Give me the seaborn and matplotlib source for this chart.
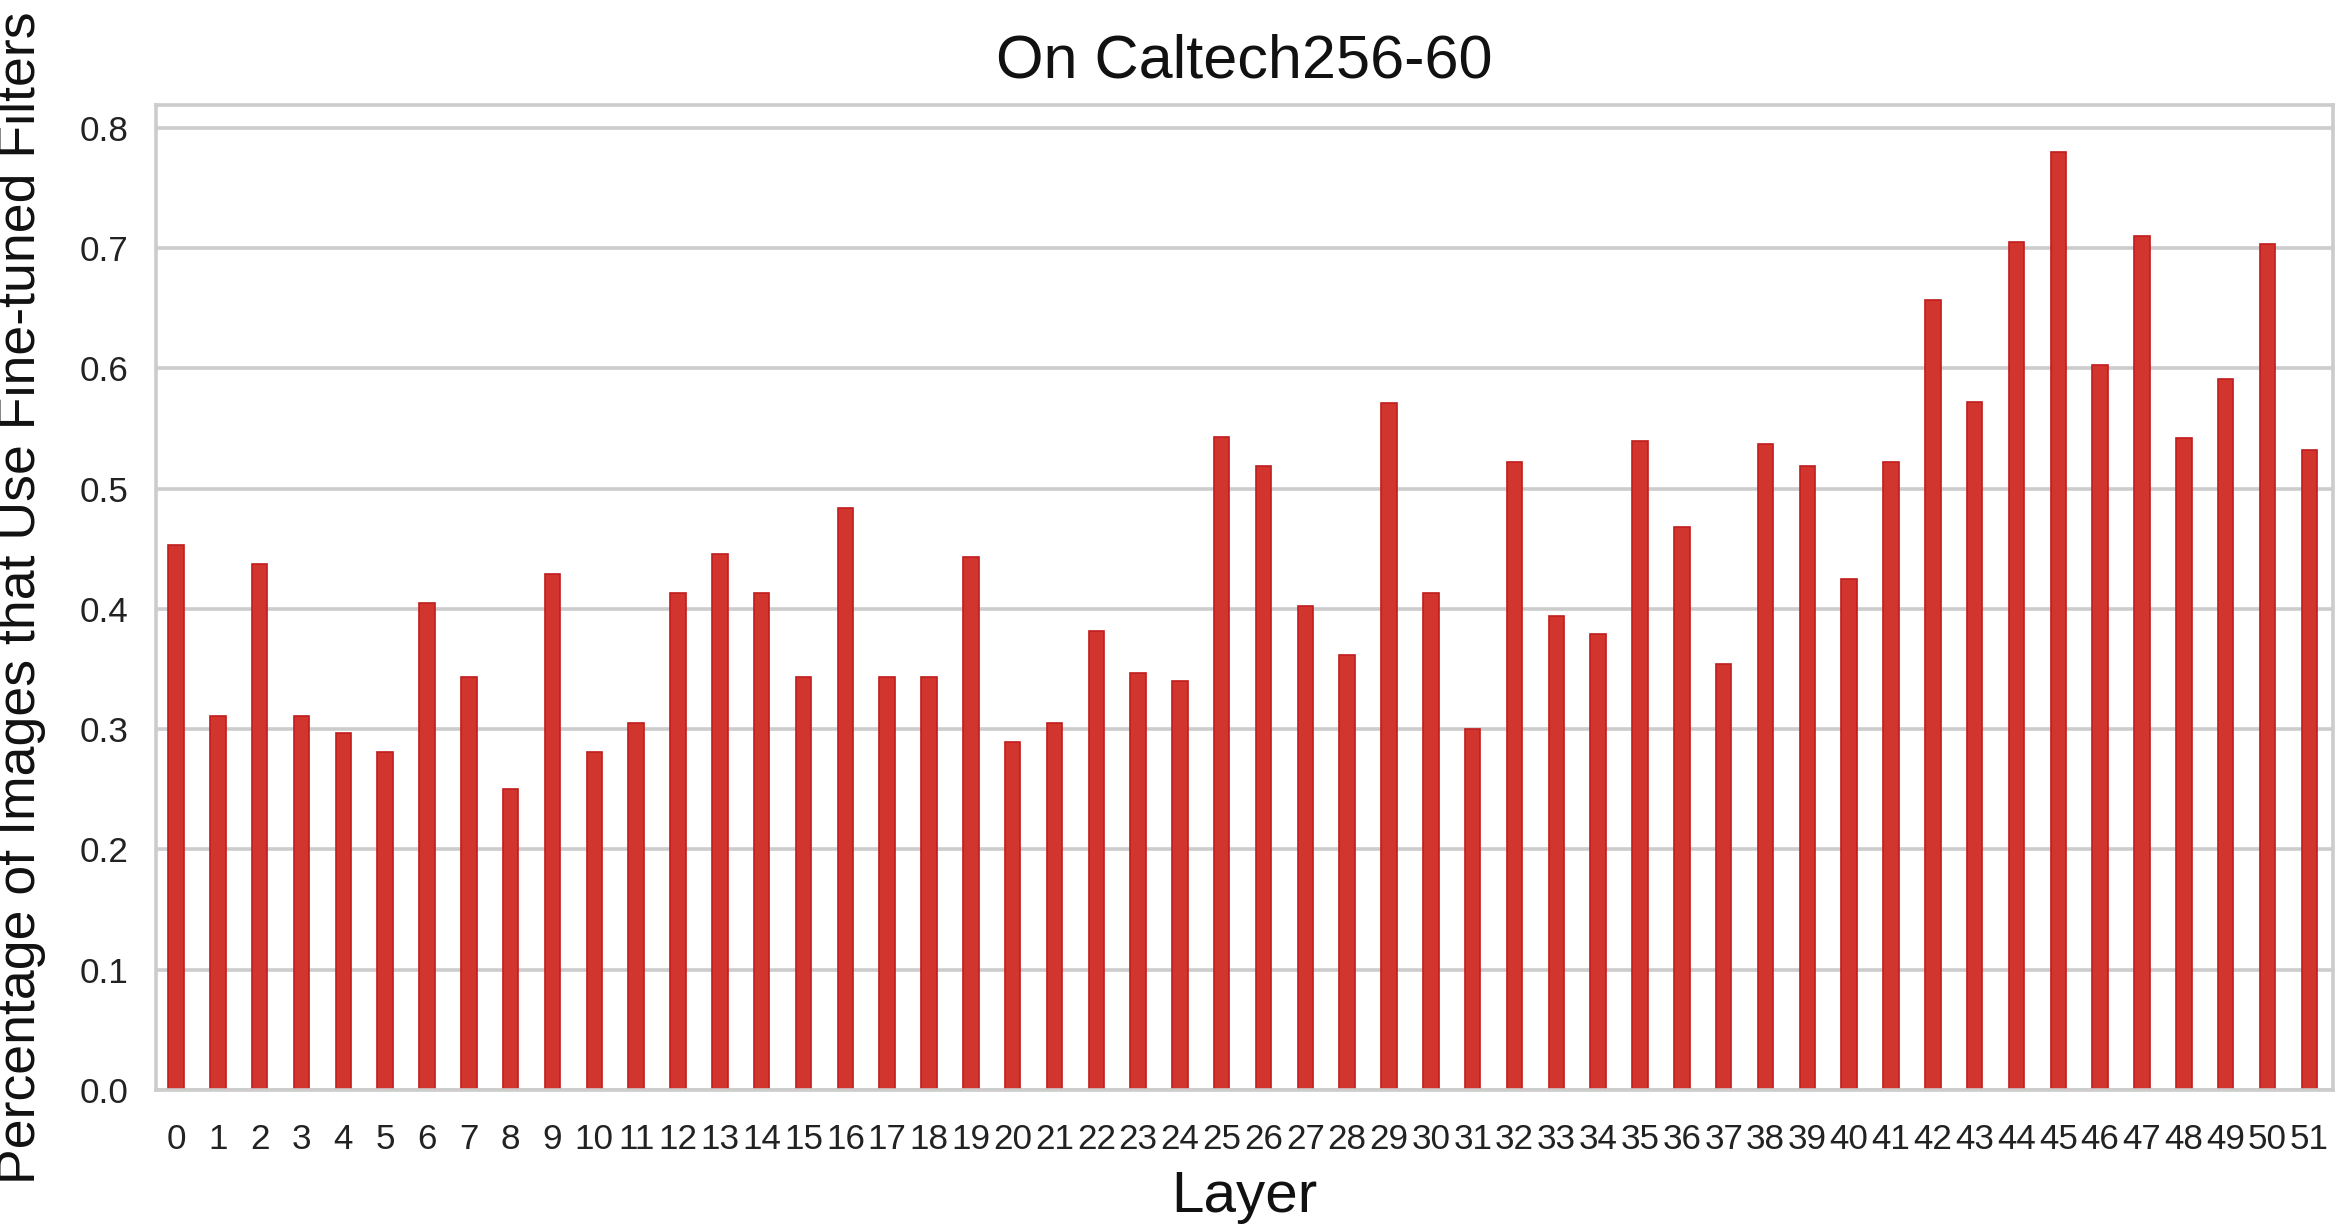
import matplotlib
matplotlib.use("Agg")
import matplotlib.pyplot as plt
import seaborn as sns
import pandas as pd

layers = list(range(52))
values = [0.453, 0.311, 0.437, 0.311, 0.297, 0.281, 0.405, 0.343, 0.250, 0.429,
          0.281, 0.305, 0.413, 0.446, 0.413, 0.343, 0.484, 0.343, 0.343, 0.443,
          0.289, 0.305, 0.382, 0.347, 0.340, 0.543, 0.519, 0.402, 0.362, 0.571,
          0.413, 0.300, 0.522, 0.394, 0.379, 0.540, 0.468, 0.354, 0.537, 0.519,
          0.425, 0.522, 0.657, 0.572, 0.705, 0.780, 0.603, 0.710, 0.542, 0.591,
          0.703, 0.532]
yticks = [0.0, 0.1, 0.2, 0.3, 0.4, 0.5, 0.6, 0.7, 0.8]
title = "On Caltech256-60"
xlabel = "Layer"
ylabel = "Percentage of Images that Use Fine-tuned Filters"

sns.set_theme(style="whitegrid")
plt.rcParams['font.family'] = ['Liberation Sans', 'DejaVu Sans']

df = pd.DataFrame({"Layer": [str(l) for l in layers], "value": values})

fig = plt.figure(figsize=(11.73, 6.16), dpi=200)
ax = fig.add_axes([0.0665, 0.1153, 0.9945 - 0.0665, 0.9148 - 0.1153])
sns.barplot(data=df, x="Layer", y="value", color="#d2352e", saturation=1,
            width=0.37, edgecolor="#c01c1c", linewidth=0.6, ax=ax)

ax.set_ylim(0, 0.819)
ax.set_xlim(-0.48, 51.57)
ax.set_yticks(yticks)
ax.set_yticklabels([f"{v:.1f}" for v in yticks])
ax.tick_params(axis='both', labelsize=12.6, colors='#222222', length=0)
ax.tick_params(axis='x', pad=12)
ax.tick_params(axis='y', pad=10)
ax.grid(axis='y', color='#cccccc', linewidth=1.3)
ax.grid(axis='x', visible=False)
ax.set_axisbelow(True)
for s in ax.spines.values():
    s.set_color('#cccccc')
    s.set_linewidth(1.3)
    s.set_visible(True)

ax.set_xlabel(xlabel, fontsize=21, color='#111111', labelpad=5)
ax.set_ylabel(ylabel, fontsize=19.3, color='#111111', labelpad=12)
ax.set_title(title, fontsize=22, color='#111111', pad=10)

fig.savefig("out.png", dpi=200)
